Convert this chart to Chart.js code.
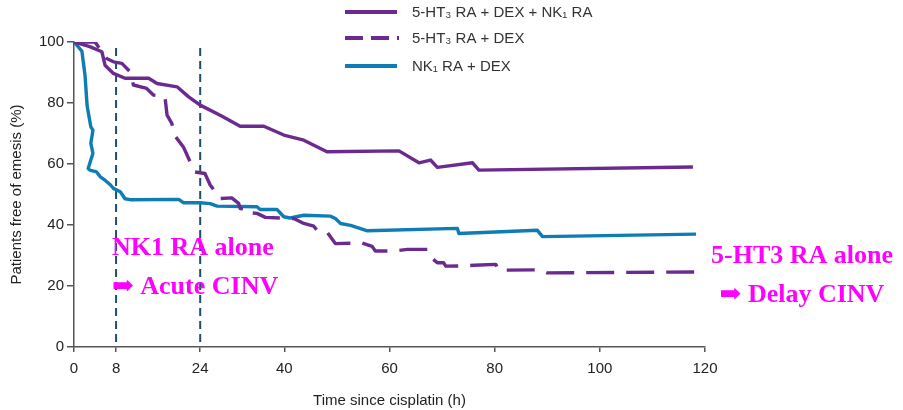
<!DOCTYPE html>
<html>
<head>
<meta charset="utf-8">
<script src="https://cdn.jsdelivr.net/npm/chart.js@4.4.1/dist/chart.umd.min.js"></script>
<style>
  html, body { margin: 0; padding: 0; background: #fff; }
  #wrap { width: 903px; height: 410px; position: relative; }
</style>
</head>
<body>
<div id="wrap"><canvas id="c"></canvas></div>
<script>
// ---- Data ----
const seriesLabels = ['5-HT\u2083 RA + DEX + NK\u2081 RA', '5-HT\u2083 RA + DEX', 'NK\u2081 RA + DEX'];

const tripleTimes  = [0, 3, 5.3, 5.9, 7.5, 9.7, 14.2, 15.8, 19.6, 21.8, 24, 27.8, 31.6, 36.1, 39.9, 43.7, 48.1, 61.8, 65.6, 67.8, 69.1, 75.8, 77.0, 117.7];
const tripleValues = [100, 98.5, 96.8, 92.4, 89.7, 88.1, 88.1, 86.4, 85.3, 82.0, 79.3, 76.0, 72.4, 72.4, 69.5, 67.8, 64.0, 64.3, 60.4, 61.3, 58.9, 60.4, 58.0, 59.0];

const ht3Times  = [0, 4, 5.3, 6.2, 7.5, 9.1, 10.7, 11.3, 13.8, 15.1, 17.3, 17.7, 18.6, 19.2, 20.8, 21.8, 23.0, 24.9, 25.9, 27.8, 30.0, 31.3, 31.6, 33.2, 33.5, 34.8, 36.4, 41.8, 43.7, 45.6, 46.2, 48.1, 49.7, 54.8, 56.7, 57.3, 61.1, 63.4, 67.2, 67.8, 69.1, 70.3, 70.7, 73.9, 76.1, 80.2, 80.8, 88.4, 90.0, 118.3];
const ht3Values = [100, 100, 96.8, 94.6, 93.5, 93.0, 90.2, 85.9, 84.8, 82.6, 82.0, 76.0, 73.3, 69.2, 65.6, 61.8, 57.4, 56.9, 53.1, 48.7, 48.9, 47.1, 45.4, 45.1, 44.0, 43.8, 42.5, 42.1, 40.5, 39.6, 38.3, 37.7, 33.9, 34.1, 33.0, 31.5, 31.5, 32.0, 32.0, 29.5, 27.6, 27.6, 26.5, 26.6, 26.8, 27.1, 25.2, 25.3, 24.3, 24.6];

const nk1Times  = [0, 1.5, 2.1, 2.5, 3.2, 3.6, 3.2, 3.6, 2.7, 3.0, 4.3, 5.0, 5.9, 6.9, 7.5, 8.8, 9.7, 10.7, 19.9, 20.8, 24, 25.9, 27.2, 34.8, 35.4, 38.6, 39.9, 41.1, 43.7, 48.8, 49.7, 50.7, 52.6, 55.8, 72.9, 73.2, 88.1, 89.1, 118.3];
const nk1Values = [100, 97, 89, 79, 72.2, 71.1, 66.8, 63.5, 58.5, 58.0, 57.4, 55.8, 54.7, 53.2, 52.0, 50.9, 48.6, 48.3, 48.4, 47.3, 47.3, 47.0, 46.2, 46.0, 45.1, 45.1, 42.7, 42.3, 43.2, 42.9, 42.1, 40.5, 39.9, 38.1, 38.9, 37.2, 38.3, 36.2, 37.0];

const markerTimes = [8, 24];          // vertical dashed reference lines (h)
const markerRange = [0, 98];          // their vertical extent (%)

const xTickValues = [0, 8, 24, 40, 60, 80, 100, 120];
const yTickStep = 20;

const xTitle = 'Time since cisplatin (h)';
const yTitle = 'Patients free of emesis (%)';

const noteLeft  = ['NK1 RA alone', '\u27A1 Acute CINV'];
const noteRight = ['5-HT3 RA alone', '\u27A1 Delay CINV'];

// ---- Styles ----
const PURPLE = '#6b2a8f';
const BLUE = '#0f7db5';
const MARK = '#1d4e6b';
const MAGENTA = '#ff00ff';
const SANS = '"Liberation Sans", Arial, sans-serif';

function pts(t, v) { return t.map((x, i) => ({ x: x, y: v[i] })); }

const datasets = [
  { label: seriesLabels[0], data: pts(tripleTimes, tripleValues), borderColor: PURPLE, borderWidth: 3.4, borderDash: [] },
  { label: seriesLabels[1], data: pts(ht3Times, ht3Values), borderColor: PURPLE, borderWidth: 3.4, borderDash: [28, 12] },
  { label: seriesLabels[2], data: pts(nk1Times, nk1Values), borderColor: BLUE, borderWidth: 3.4, borderDash: [] }
];
markerTimes.forEach(t => {
  datasets.push({ label: 'marker', data: [{ x: t, y: markerRange[1] }, { x: t, y: markerRange[0] }],
    borderColor: MARK, borderWidth: 2, borderDash: [8, 5] });
});
datasets.forEach(d => { d.pointRadius = 0; d.fill = false; d.tension = 0; d.borderJoinStyle = 'round'; d.borderCapStyle = 'butt'; });

const overlay = {
  id: 'overlay',
  afterDraw(chart) {
    const ctx = chart.ctx;
    ctx.save();
    // legend
    const rows = [12, 38, 66];
    for (let i = 0; i < 3; i++) {
      const ds = chart.data.datasets[i];
      ctx.strokeStyle = ds.borderColor;
      ctx.lineWidth = 4;
      ctx.setLineDash(i === 1 ? [18, 8] : []);
      ctx.beginPath();
      ctx.moveTo(345, rows[i]);
      ctx.lineTo(i === 1 ? 399 : 397, rows[i]);
      ctx.stroke();
      ctx.setLineDash([]);
      ctx.fillStyle = '#333';
      ctx.font = '15px ' + SANS;
      ctx.textBaseline = 'middle';
      ctx.textAlign = 'left';
      ctx.fillText(ds.label, 412, rows[i] + 1);
    }
    // annotations
    ctx.fillStyle = MAGENTA;
    ctx.font = 'bold 26px "Liberation Serif", "DejaVu Serif", serif';
    ctx.textBaseline = 'alphabetic';
    ctx.textAlign = 'left';
    ctx.fillText(noteLeft[0], 112, 255);
    ctx.fillText(noteLeft[1], 112, 294);
    ctx.textAlign = 'center';
    ctx.fillText(noteRight[0], 802, 263);
    ctx.fillText(noteRight[1], 802, 302);
    ctx.restore();
  }
};

new Chart(document.getElementById('c'), {
  type: 'line',
  data: { datasets: datasets },
  options: {
    responsive: true,
    maintainAspectRatio: false,
    animation: false,
    events: [],
    layout: { padding: { left: 8, right: 198, top: 42, bottom: 0 } },
    plugins: { legend: { display: false }, tooltip: { enabled: false } },
    scales: {
      x: {
        type: 'linear', min: 0, max: 120,
        afterBuildTicks(scale) { scale.ticks = xTickValues.map(v => ({ value: v })); },
        afterFit(scale) { scale.height = 410 - 347; },
        grid: { display: true, drawOnChartArea: false, drawTicks: true, tickLength: 5, color: '#555', lineWidth: 1.5 },
        border: { display: true, color: '#555', width: 1.5 },
        ticks: { color: '#222', font: { family: SANS, size: 15 }, padding: 8, maxRotation: 0, autoSkip: false },
        title: { display: true, text: xTitle, color: '#222', font: { family: SANS, size: 15 }, padding: { top: 4, bottom: 0 } }
      },
      y: {
        type: 'linear', min: 0, max: 100,
        afterFit(scale) { scale.width = 74 - 8; },
        grid: { display: true, drawOnChartArea: false, drawTicks: true, tickLength: 7, color: '#555', lineWidth: 1.5 },
        border: { display: true, color: '#555', width: 1.5 },
        ticks: { stepSize: yTickStep, color: '#222', font: { family: SANS, size: 15 }, padding: 3 },
        title: { display: true, text: yTitle, color: '#222', font: { family: SANS, size: 15 }, padding: { top: 0, bottom: 4 } }
      }
    }
  },
  plugins: [overlay]
});
</script>
</body>
</html>
